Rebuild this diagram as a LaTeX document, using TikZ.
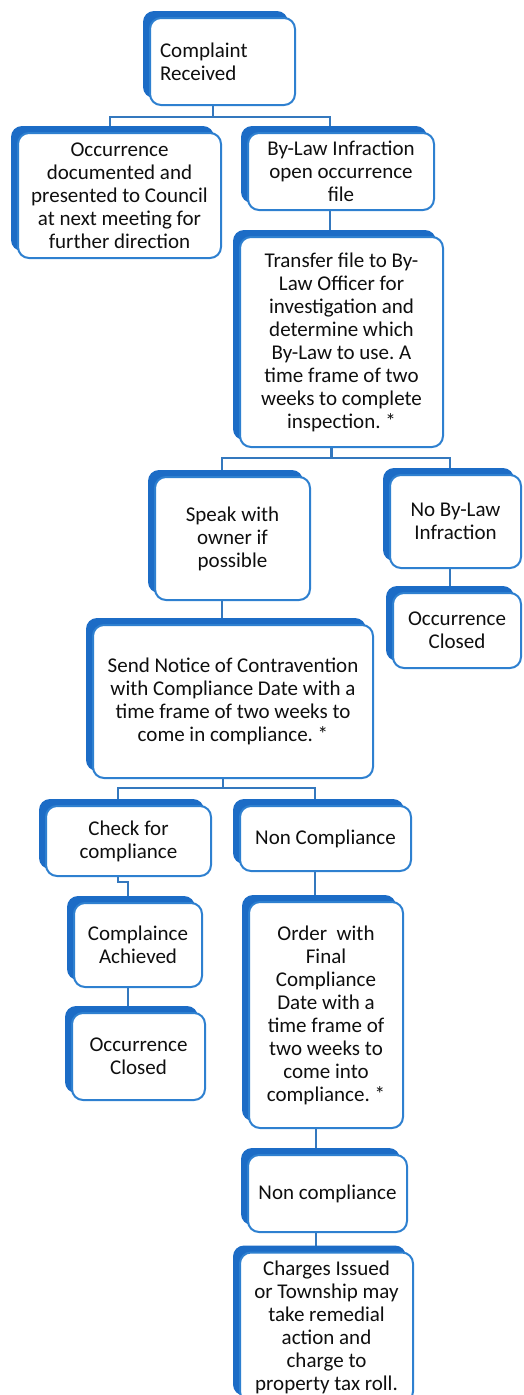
\documentclass[tikz,border=0pt]{standalone}
\usepackage{fontspec}
\setmainfont{Carlito}
\usepackage{xcolor}
\usetikzlibrary{shadows,
	backgrounds,
	calc}
\definecolor{boxblue}{RGB}{46,128,208}
\definecolor{backblue}{RGB}{28,108,198}
\definecolor{linkblue}{RGB}{52,120,190}
\definecolor{textgray}{RGB}{15,15,15}
\frenchspacing

\begin{document}
\begin{tikzpicture}[x=1pt,y=1pt,
	stage/.style={draw=boxblue, line width=2pt, fill=white, rounded corners=11pt,
		align=center, font=\fontsize{21}{23}\selectfont, text=textgray, inner sep=2pt,
		general shadow={fill=backblue, shadow xshift=-7pt, shadow yshift=7pt}},
	link/.style={draw=linkblue, line width=2.2pt}]
	\useasboundingbox (0,0) rectangle (523,-1395);
	% boxes, placed by their centres
	\node[stage, minimum width=145, minimum height=87, text width=125, align=left] (recv) at (222.5,-61.5) {Complaint\\Received};
	\node[stage, minimum width=203, minimum height=125] (occ) at (119.5,-195.5) {Occurrence\\documented and\\presented to Council\\at next meeting for\\further direction};
	\node[stage, minimum width=186, minimum height=77] (bylaw) at (341,-171.5) {By-Law Infraction\\open occurrence\\file};
	\node[stage, minimum width=203, minimum height=210] (transfer) at (341.5,-342) {Transfer file to By-\\Law Officer for\\investigation and\\determine which\\By-Law to use. A\\time frame of two\\weeks to complete\\inspection. *};
	\node[stage, minimum width=155, minimum height=123] (speak) at (232.5,-538.5) {Speak with\\owner if\\possible};
	\node[stage, minimum width=131, minimum height=93] (nolaw) at (455.5,-521.5) {No By-Law\\Infraction};
	\node[stage, minimum width=128, minimum height=75] (closedr) at (457,-630.5) {Occurrence\\Closed};
	\node[stage, minimum width=280, minimum height=153] (notice) at (233,-701.5) {Send Notice of Contravention\\with Compliance Date with a\\time frame of two weeks to\\come in compliance. *};
	\node[stage, minimum width=165, minimum height=70] (check) at (128.5,-841) {Check for\\compliance};
	\node[stage, minimum width=171, minimum height=65] (noncomp) at (325.5,-838.5) {Non Compliance};
	\node[stage, minimum width=128, minimum height=84] (achieved) at (138,-945) {Complaince\\Achieved};
	\node[stage, minimum width=133, minimum height=87] (closedl) at (138.5,-1056.5) {Occurrence\\Closed};
	\node[stage, minimum width=154, minimum height=226] (order) at (326,-1015) {Order~ with\\Final\\Compliance\\Date with a\\time frame of\\two weeks to\\come into\\compliance. *};
	\node[stage, minimum width=159, minimum height=77] (noncomptwo) at (327.5,-1193.5) {Non compliance};
	\node[stage, minimum width=173, minimum height=150] (charges) at (326.5,-1327.5) {Charges Issued\\or Township may\\take remedial\\action and\\charge to\\property tax roll.};

	% connectors go behind the boxes
	\begin{scope}[on background layer]
		\draw[link] ([xshift=-9.5pt]recv.south) -- ++(0,-11) -| ([xshift=-9.5pt]occ.north);
		\draw[link] ([xshift=-9.5pt]recv.south) -- ++(0,-11) -| ([xshift=-11pt]bylaw.north);
		\draw[link] ([xshift=-11pt]bylaw.south) -- ([xshift=-11pt]bylaw.south |- transfer.north);
		\draw[link] ([xshift=-10pt]transfer.south) -- ++(0,-10) -| ([xshift=-10.5pt]speak.north);
		\draw[link] ([xshift=-10pt]transfer.south) -- ++(0,-10) -| ([xshift=-5.5pt]nolaw.north);
		\draw[link] ([xshift=-5.5pt]nolaw.south) -- ([xshift=-5.5pt]nolaw.south |- closedr.north);
		\draw[link] ([xshift=-10.5pt]speak.south) -- ([xshift=-10.5pt]speak.south |- notice.north);
		\draw[link] ([xshift=-10pt]notice.south) -- ++(0,-9) -| ([xshift=-10.5pt]check.north);
		\draw[link] ([xshift=-10pt]notice.south) -- ++(0,-9) -| ([xshift=-10.5pt]noncomp.north);
		\draw[link] ([xshift=-10.5pt]check.south) -- ++(0,-5) -| ([xshift=-10pt]achieved.north);
		\draw[link] ([xshift=-10pt]achieved.south) -- ([xshift=-10pt]achieved.south |- closedl.north);
		\draw[link] ([xshift=-10.5pt]noncomp.south) -- ([xshift=-10.5pt]noncomp.south |- order.north);
		\draw[link] ([xshift=-10pt]order.south) -- ([xshift=-10pt]order.south |- noncomptwo.north);
		\draw[link] ([xshift=-11.5pt]noncomptwo.south) -- ([xshift=-11.5pt]noncomptwo.south |- charges.north);
	\end{scope}
\end{tikzpicture}
\end{document}
